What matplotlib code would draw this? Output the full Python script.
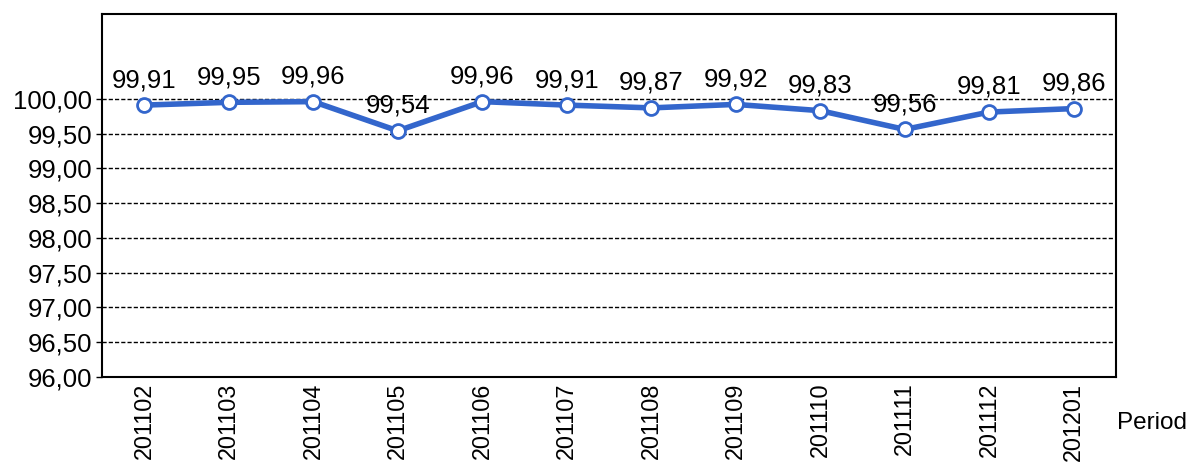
import numpy as np
import matplotlib.pyplot as plt

plt.rcParams['font.family'] = ['Liberation Sans', 'DejaVu Sans']

periods = ['201102', '201103', '201104', '201105', '201106', '201107',
           '201108', '201109', '201110', '201111', '201112', '201201']
values = [99.91, 99.95, 99.96, 99.54, 99.96, 99.91, 99.87, 99.92, 99.83, 99.56, 99.81, 99.86]
y_ticks = [96.0, 96.5, 97.0, 97.5, 98.0, 98.5, 99.0, 99.5, 100.0]

fig = plt.figure(figsize=(11.89, 4.65), dpi=100)
ax = fig.add_axes([0.0858, 0.1892, 0.8528, 0.7807])

x = np.arange(len(periods))
ax.plot(x, values, color='#3366CC', linewidth=4, marker='o', markersize=10,
        markerfacecolor='white', markeredgecolor='#3366CC', markeredgewidth=2, zorder=3)

for xi, v in zip(x, values):
    ax.annotate(('%.2f' % v).replace('.', ','), (xi, v), xytext=(0, 13),
                textcoords='offset points', ha='center', va='baseline', fontsize=18.5)

ax.set_xlim(-0.5, len(periods) - 0.5)
ax.set_ylim(96, 101.22)
ax.set_yticks(y_ticks)
ax.set_yticklabels([('%.2f' % t).replace('.', ',') for t in y_ticks], fontsize=18.5)
ax.set_xticks(x)
ax.set_xticklabels(periods, rotation=90, fontsize=16.8)
ax.tick_params(axis='x', length=0, pad=4)
ax.tick_params(axis='y', length=4, width=1, direction='out', pad=3)

for t in y_ticks[1:]:
    ax.axhline(t, color='black', linewidth=1, linestyle=(0, (3, 1.5)), zorder=1)

for s in ax.spines.values():
    s.set_linewidth(1.5)

fig.text(0.9395, 0.091, 'Period', fontsize=17.5, ha='left', va='center')

fig.savefig('out.png', dpi=100)
